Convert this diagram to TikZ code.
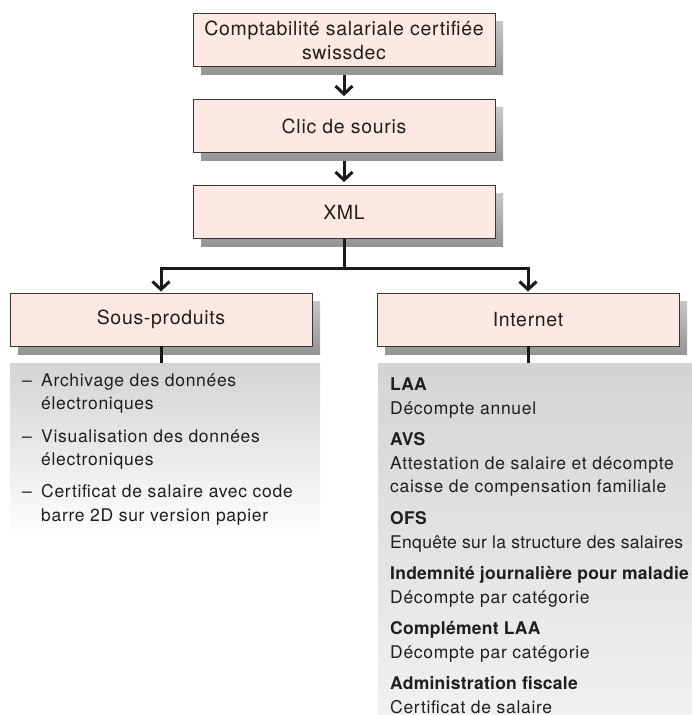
\documentclass[tikz,border=0pt]{standalone}
\usepackage{fontspec}
\setmainfont{TeX Gyre Heros}
\newfontfamily\boxfont[LetterSpace=3.5]{TeX Gyre Heros}
\newfontfamily\panelfont[LetterSpace=4]{TeX Gyre Heros}
\newfontfamily\panelfonttight[LetterSpace=1.8]{TeX Gyre Heros}
\newfontfamily\headfont[LetterSpace=1.5]{TeX Gyre Heros Bold}
\usetikzlibrary{arrows.meta,shadows}
\definecolor{boxfill}{HTML}{FDE9E1}
\definecolor{boxdraw}{HTML}{3A3535}
\definecolor{txt}{HTML}{1E1E1E}
\tikzset{
  flowbox/.style={draw=boxdraw, line width=0.9pt, fill=boxfill, minimum width=302pt,
    minimum height=53pt, inner sep=0pt, align=center, text=txt, font=\boxfont\fontsize{19.5}{24}\selectfont,
    general shadow={shadow xshift=8pt, shadow yshift=-8pt, top color=black!22, bottom color=black!42}},
  flowarrow/.style={line width=3pt, black!90, -{Straight Barb[length=8pt, width=17pt, line width=3pt]}},
  plainline/.style={line width=3pt, black!90},
  paneltext/.style={anchor=base west, inner sep=0pt, text=txt, font=\panelfont\fontsize{17.5}{20}\selectfont},
  paneltight/.style={paneltext, font=\panelfonttight\fontsize{17.5}{20}\selectfont},
  panelhead/.style={paneltext, font=\headfont\fontsize{17.5}{20}\selectfont},
  leftpanel/.style={anchor=north west, inner sep=0pt, minimum width=310pt, minimum height=175pt,
    top color=black!17, bottom color=white},
  rightpanel/.style={anchor=north west, inner sep=0pt, minimum width=320pt, minimum height=370pt,
    top color=black!17, bottom color=black!5},
}
\begin{document}
\begin{tikzpicture}[x=1pt,y=-1pt]
\clip (0,0) rectangle (692,715);
\fill[white] (0,0) rectangle (692,715);

% panels
\node[leftpanel] (lp) at (10,363) {};
\node[rightpanel] (rp) at (378,363) {};

% boxes
\node[flowbox] (b1) at (344,40) {Comptabilité salariale certifiée\\swissdec};
\node[flowbox] (b2) at (344,126) {Clic de souris};
\node[flowbox] (b3) at (344,212) {XML};
\node[flowbox] (sp) at (161,319.5) {Sous-produits};
\node[flowbox] (in) at (528,319.5) {Internet};

% connectors
\draw[flowarrow] ([yshift=-8pt]b1.south) -- ([yshift=3pt]b2.north);
\draw[flowarrow] ([yshift=-8pt]b2.south) -- ([yshift=3pt]b3.north);
\coordinate (j) at (344,268);
\draw[plainline] (b3.south) -- (j);
\draw[flowarrow] ([xshift=1.5pt]j) -| ([yshift=1pt]sp.north);
\draw[flowarrow] ([xshift=-1.5pt]j) -| ([yshift=1pt]in.north);
\draw[plainline] (sp.south) -- (lp.north -| sp.south);
\draw[plainline] (in.south) -- (rp.north -| in.south);

% left panel text
\node[paneltext] (l1d) at (22,386) {–};
\node[paneltext] (l1a) at (41,386) {Archivage des données};
\node[paneltext] (l1b) at (41,409) {électroniques};
\node[paneltext] (l2d) at (22,442) {–};
\node[paneltext] (l2a) at (41,442) {Visualisation des données};
\node[paneltext] (l2b) at (41,465) {électroniques};
\node[paneltext] (l3d) at (22,497) {–};
\node[paneltext] (l3a) at (41,497) {Certificat de salaire avec code};
\node[paneltext] (l3b) at (41,521) {barre 2D sur version papier};

% right panel text
\node[panelhead] (r1h) at (390,390) {LAA};
\node[paneltext] (r1t) at (390,414) {Décompte annuel};
\node[panelhead] (r2h) at (390,445) {AVS};
\node[paneltext] (r2t) at (390,469) {Attestation de salaire et décompte};
\node[paneltext] (r2u) at (390,492) {caisse de compensation familiale};
\node[panelhead] (r3h) at (390,524) {OFS};
\node[paneltight] (r3t) at (390,548) {Enquête sur la structure des salaires};
\node[panelhead] (r4h) at (390,579) {Indemnité journalière pour maladie};
\node[paneltext] (r4t) at (390,603) {Décompte par catégorie};
\node[panelhead] (r5h) at (390,634) {Complément LAA};
\node[paneltext] (r5t) at (390,658) {Décompte par catégorie};
\node[panelhead] (r6h) at (390,689) {Administration fiscale};
\node[paneltext] (r6t) at (390,713) {Certificat de salaire};
\end{tikzpicture}
\end{document}
